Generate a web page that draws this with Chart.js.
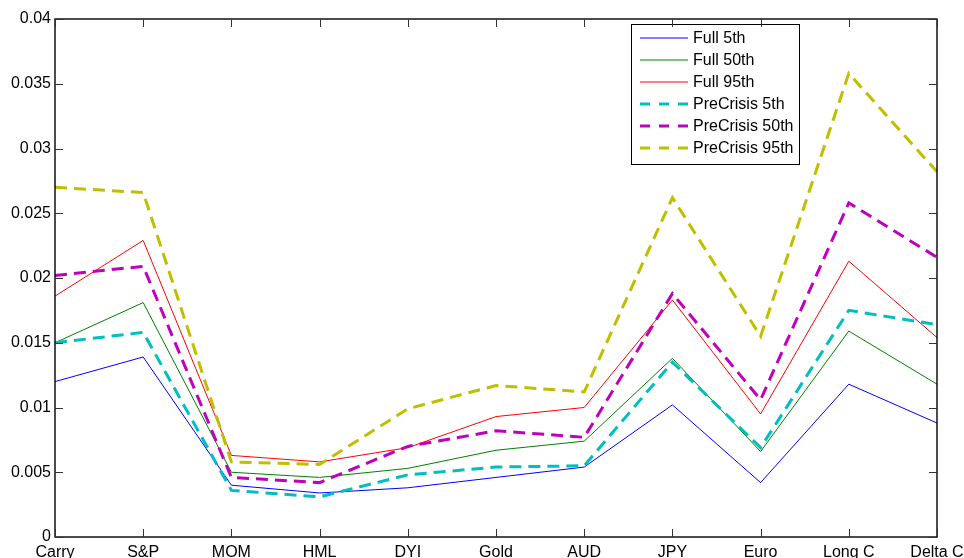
<!DOCTYPE html>
<html>
<head>
<meta charset="utf-8">
<title>Percentiles</title>
<script src="https://cdn.jsdelivr.net/npm/chart.js@4"></script>
<style>
  body { margin: 0; background: #fff; }
  #wrap { width: 964px; height: 558px; position: relative; }
</style>
</head>
<body>
<div id="wrap"><canvas id="pct"></canvas></div>

<script>
  // factor names along the x axis
  const categories = ['Carry', 'S&P', 'MOM', 'HML', 'DYI', 'Gold', 'AUD', 'JPY', 'Euro', 'Long C', 'Delta C'];

  // full sample percentiles
  const full5  = [0.0120, 0.0139, 0.0040, 0.0034, 0.0038, 0.0046, 0.0054, 0.0102, 0.0042, 0.0118, 0.0088];
  const full50 = [0.0150, 0.0181, 0.0050, 0.0046, 0.0053, 0.0067, 0.0074, 0.0138, 0.0066, 0.0159, 0.0118];
  const full95 = [0.0186, 0.0229, 0.0063, 0.0058, 0.0069, 0.0093, 0.0100, 0.0183, 0.0095, 0.0213, 0.0154];

  // pre-crisis percentiles
  const pre5  = [0.0150, 0.0158, 0.0036, 0.0031, 0.0048, 0.0054, 0.0055, 0.0135, 0.0069, 0.0175, 0.0164];
  const pre50 = [0.0202, 0.0209, 0.0046, 0.0042, 0.0070, 0.0082, 0.0077, 0.0188, 0.0106, 0.0258, 0.0216];
  const pre95 = [0.0270, 0.0266, 0.0058, 0.0056, 0.0099, 0.0117, 0.0112, 0.0262, 0.0155, 0.0358, 0.0282];

  const yMin = 0, yMax = 0.04, yStep = 0.005;

  const FONT = 'Liberation Sans, Arial, Helvetica, sans-serif';
  const DASH = [12, 7];

  function solid(label, data, color) {
    return { label, data, borderColor: color, borderWidth: 1, pointRadius: 0, tension: 0, fill: false, order: 2 };
  }
  function dashed(label, data, color) {
    return { label, data, borderColor: color, borderWidth: 3, borderDash: DASH, pointRadius: 0, tension: 0, fill: false, order: 1 };
  }

  // box around the plot with inward tick marks on all four sides
  const frame = {
    id: 'frame',
    afterDraw(chart) {
      const { ctx, chartArea: a, scales: { x, y } } = chart;
      ctx.save();
      ctx.strokeStyle = '#000';
      ctx.lineWidth = 1.4;
      ctx.strokeRect(a.left, a.top, a.right - a.left, a.bottom - a.top);
      ctx.strokeStyle = '#333';
      ctx.lineWidth = 1;
      const len = 8;
      ctx.beginPath();
      y.ticks.forEach((t, i) => {
        const py = Math.round(y.getPixelForTick(i)) + 0.5;
        ctx.moveTo(a.left, py); ctx.lineTo(a.left + len, py);
        ctx.moveTo(a.right, py); ctx.lineTo(a.right - len, py);
      });
      x.ticks.forEach((t, i) => {
        const px = Math.round(x.getPixelForTick(i)) + 0.5;
        ctx.moveTo(px, a.bottom); ctx.lineTo(px, a.bottom - len);
        ctx.moveTo(px, a.top); ctx.lineTo(px, a.top + len);
      });
      ctx.stroke();
      ctx.restore();
    }
  };

  // legend box inside the plot, upper right
  const boxLegend = {
    id: 'boxLegend',
    afterDatasetsDraw(chart) {
      const { ctx, chartArea: a } = chart;
      const sets = chart.data.datasets;
      const left = a.right - 306, top = a.top + 5, w = 168, rowH = 22;
      const h = sets.length * rowH + 8;
      ctx.save();
      ctx.fillStyle = '#fff';
      ctx.fillRect(left, top, w, h);
      ctx.strokeStyle = '#000';
      ctx.lineWidth = 1;
      ctx.strokeRect(left + 0.5, top + 0.5, w, h);
      ctx.font = '16px ' + FONT;
      ctx.textBaseline = 'middle';
      sets.forEach((ds, i) => {
        const cy = top + 14 + i * rowH;
        ctx.strokeStyle = ds.borderColor;
        ctx.lineWidth = ds.borderWidth;
        ctx.setLineDash(ds.borderDash ? [10, 9] : []);
        ctx.beginPath();
        ctx.moveTo(left + 9, cy);
        ctx.lineTo(left + 57, cy);
        ctx.stroke();
        ctx.setLineDash([]);
        ctx.fillStyle = '#000';
        ctx.fillText(ds.label, left + 62, cy + 1);
      });
      ctx.restore();
    }
  };

  new Chart(document.getElementById('pct'), {
    type: 'line',
    data: {
      labels: categories,
      datasets: [
        solid('Full 5th', full5, '#0000ff'),
        solid('Full 50th', full50, '#008000'),
        solid('Full 95th', full95, '#ff0000'),
        dashed('PreCrisis 5th', pre5, '#00bfbf'),
        dashed('PreCrisis 50th', pre50, '#bf00bf'),
        dashed('PreCrisis 95th', pre95, '#bfbf00')
      ]
    },
    options: {
      responsive: true,
      maintainAspectRatio: false,
      animation: false,
      layout: { padding: { top: 19, right: 27, left: 0, bottom: 0 } },
      plugins: { legend: { display: false }, tooltip: { enabled: false } },
      scales: {
        x: {
          offset: false,
          grid: { display: false, drawTicks: false },
          border: { display: false },
          ticks: { autoSkip: false, maxRotation: 0, padding: 6, color: '#000', font: { family: FONT, size: 16 } },
          afterFit(s) { s.height = 21; s.paddingLeft = 0; s.paddingRight = 0; }
        },
        y: {
          min: yMin,
          max: yMax,
          grid: { display: false, drawTicks: false },
          border: { display: false },
          ticks: {
            stepSize: yStep,
            padding: 4,
            color: '#000',
            font: { family: FONT, size: 16 },
            callback: v => String(+v.toFixed(3))
          },
          afterFit(s) { s.width = 55; s.paddingTop = 0; s.paddingBottom = 0; }
        }
      }
    },
    plugins: [frame, boxLegend]
  });
</script>
</body>
</html>
